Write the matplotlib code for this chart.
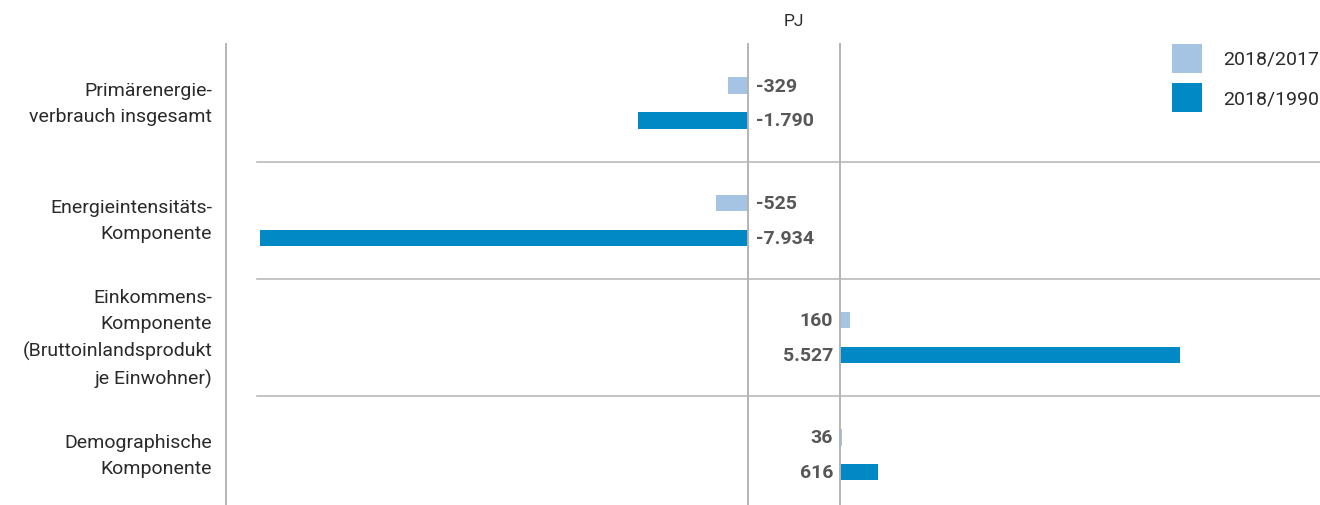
import matplotlib
matplotlib.use("Agg")
import matplotlib.pyplot as plt
from matplotlib.patches import Rectangle
import numpy as np

plt.rcParams['font.family'] = ['Roboto', 'DejaVu Sans']

categories = ["Primärenergie-\nverbrauch insgesamt",
              "Energieintensitäts-\nKomponente",
              "Einkommens-\nKomponente\n(Bruttoinlandsprodukt\nje Einwohner)",
              "Demographische\nKomponente"]
series_names = ["2018/2017", "2018/1990"]
vals_2017 = [-329, -525, 160, 36]
vals_1990 = [-1790, -7934, 5527, 616]
labels_2017 = ["-329", "-525", "160", "36"]
labels_1990 = ["-1.790", "-7.934", "5.527", "616"]

c_light = "#A5C4E3"
c_dark = "#0089C4"
c_grid = "#B4B4B4"
c_val = "#575757"
c_txt = "#2A2A2A"

W, H = 1320, 506
fig = plt.figure(figsize=(W/100, H/100), dpi=100)

def fx(px): return px / W
def fy(py): return 1 - py / H

top, bot = 45, 506
ylim = ((bot - 104) / 117.3, (top - 104) / 117.3)

# background axis for separators
axb = fig.add_axes([fx(226), fy(bot), fx(1320 - 226), (bot - top) / H])
axb.set_ylim(*ylim)
axb.set_xlim(226, 1320)
axb.axis('off')
for sep in [0.5, 1.5, 2.5]:
    axb.plot([257, 1320], [sep, sep], color=c_grid, lw=1.1)

axL = fig.add_axes([fx(226), fy(bot), fx(748 - 226), (bot - top) / H])
axR = fig.add_axes([fx(840), fy(bot), fx(1320 - 840), (bot - top) / H])
for ax in (axL, axR):
    ax.patch.set_alpha(0)
    ax.set_ylim(*ylim)
    ax.set_xticks([]); ax.set_yticks([])
    for s in ax.spines.values():
        s.set_visible(False)
axL.set_xlim(-522 / 0.0615, 0)
axR.set_xlim(0, 480 / 0.0615)
for ax, side in ((axL, 'left'), (axL, 'right'), (axR, 'left')):
    ax.spines[side].set_visible(True)
    ax.spines[side].set_color(c_grid)
    ax.spines[side].set_linewidth(1.4)

y = np.arange(len(categories))
off = 0.149
h = 0.138
for i in range(len(categories)):
    for v, lab, yy, col in ((vals_2017[i], labels_2017[i], y[i] - off, c_light),
                            (vals_1990[i], labels_1990[i], y[i] + off, c_dark)):
        if v < 0:
            axL.barh(yy, v, height=h, color=col, lw=0)
            axL.annotate(lab, (0, yy), xytext=(6, 0), textcoords='offset points',
                         ha='left', va='center', fontsize=14, fontweight='bold',
                         color=c_val, annotation_clip=False)
        else:
            axR.barh(yy, v, height=h, color=col, lw=0)
            axR.annotate(lab, (0, yy), xytext=(-5, 0), textcoords='offset points',
                         ha='right', va='center', fontsize=14, fontweight='bold',
                         color=c_val, annotation_clip=False)
    axL.annotate(categories[i], (0, y[i]), xycoords=('axes fraction', 'data'),
                 xytext=(-10, 0), textcoords='offset points', ha='right', va='center',
                 fontsize=14, color=c_txt, linespacing=1.58,
                 annotation_clip=False)

fig.text(fx(794), fy(22), "PJ", ha='center', va='center', fontsize=12.5,
         color=c_txt)

for j, (name, col) in enumerate(zip(series_names, [c_light, c_dark])):
    y0 = 45 + j * 39
    fig.add_artist(Rectangle((fx(1172), fy(y0 + 29)), fx(30), 29 / H,
                             transform=fig.transFigure, color=col, lw=0))
    fig.text(fx(1223), fy(y0 + 15), name, ha='left', va='center', fontsize=14,
             color=c_txt)

fig.savefig("out.png", dpi=100)
